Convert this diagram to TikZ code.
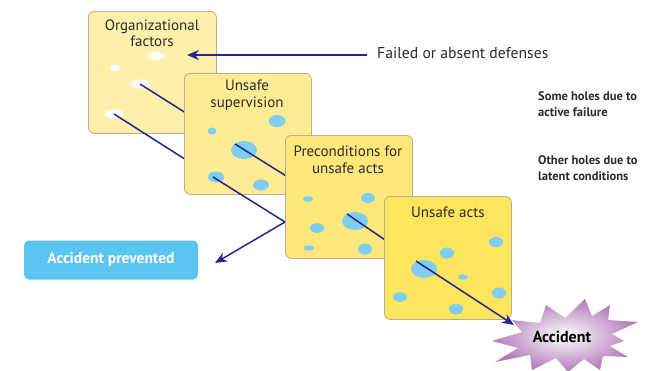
\documentclass[tikz,border=0pt]{standalone}
\usepackage{fontspec}
\setmainfont{PT Sans}
\usetikzlibrary{arrows.meta}
\definecolor{yA}{HTML}{FEF0AA}
\definecolor{yB}{HTML}{FEEC94}
\definecolor{yC}{HTML}{FEE87C}
\definecolor{yD}{HTML}{FDE55E}
\definecolor{boxedge}{HTML}{B8AE90}
\definecolor{holeblue}{HTML}{7FCDF1}
\definecolor{navy}{HTML}{25258E}
\definecolor{txt}{HTML}{2B2B2B}
\definecolor{prevblue}{HTML}{5BC5F2}
\definecolor{burst}{HTML}{B07AB8}
\begin{document}
\begin{tikzpicture}[x=1pt,y=-1pt,
  layerbox/.style={draw=boxedge, line width=0.8pt, rounded corners=6pt, anchor=north west, inner sep=0pt},
  boxtext/.style={text=txt, align=center, font=\fontsize{15}{16.5}\selectfont, inner sep=0pt},
  sidetext/.style={text=txt, align=left, anchor=west, font=\bfseries\fontsize{12.5}{15.5}\selectfont, inner sep=0pt},
  ray/.style={draw=navy, line width=1.5pt},
  tip/.style={-{Stealth[length=12pt,width=10pt]}}]
\useasboundingbox (0,0) rectangle (646,370);

% layer 1
\node[layerbox, fill=yA, minimum width=128pt, minimum height=122pt] (b1) at (88,11) {};
\node[boxtext] (t1) at (152,33) {Organizational\\factors};
\fill[white] (157,56) ellipse [x radius=8, y radius=4];
\fill[white] (115,68) ellipse [x radius=5, y radius=3.2];
\fill[white] (140,84) ellipse [x radius=9.5, y radius=4.5];
\fill[white] (114,114) ellipse [x radius=9.5, y radius=4.5];
\coordinate (p1) at (140,84);
\coordinate (q1) at (114,114);
\coordinate (p2) at (235,144);
\coordinate (q2) at (213,177);
\draw[ray] (p1) -- (p2);
\draw[ray] (q1) -- (q2);

% layer 2
\node[layerbox, fill=yB, minimum width=127pt, minimum height=121pt] (b2) at (184,73) {};
\node[boxtext] (t2) at (247,95) {Unsafe\\supervision};
\fill[holeblue] (277,121) ellipse [x radius=8.5, y radius=6];
\fill[holeblue] (212,131) ellipse [x radius=4.5, y radius=3.5];
\fill[holeblue] (244,150) ellipse [x radius=13, y radius=9];
\fill[holeblue] (216,177) ellipse [x radius=8, y radius=5.5];
\fill[holeblue] (261,185) ellipse [x radius=8, y radius=5.5];
\coordinate (p3) at (347,214);
\coordinate (q3) at (285,222);
\coordinate (qend) at (215,263);
\draw[ray] (p2) -- (p3);
\draw[ray] (q2) -- (q3);

% layer 3
\node[layerbox, fill=yC, minimum width=127pt, minimum height=123pt] (b3) at (285,135) {};
\node[boxtext] (t3) at (348,160) {Preconditions for\\unsafe acts};
\fill[holeblue] (308,199) ellipse [x radius=5, y radius=3];
\fill[holeblue] (368,198) ellipse [x radius=7, y radius=5];
\fill[holeblue] (355,221) ellipse [x radius=13, y radius=9];
\fill[holeblue] (317,228) ellipse [x radius=7, y radius=5];
\fill[holeblue] (309,248) ellipse [x radius=5, y radius=2.7];
\fill[holeblue] (365,249) ellipse [x radius=7, y radius=5.5];
\draw[ray, tip] (q3) -- (qend);
\coordinate (p4) at (416,261);
\coordinate (pend) at (514,325);
\draw[ray] (p3) -- (p4);

% layer 4
\node[layerbox, fill=yD, minimum width=127pt, minimum height=123pt] (b4) at (384,196) {};
\node[boxtext] (t4) at (448,212) {Unsafe acts};
\fill[holeblue] (496,242) ellipse [x radius=7, y radius=5];
\fill[holeblue] (447,253) ellipse [x radius=7, y radius=5.5];
\fill[holeblue] (424,269) ellipse [x radius=13, y radius=9];
\fill[holeblue] (463,277) ellipse [x radius=5, y radius=2.7];
\fill[holeblue] (400,297) ellipse [x radius=7, y radius=5];
\fill[holeblue] (499,293) ellipse [x radius=7, y radius=5.5];
\fill[holeblue] (456,309) ellipse [x radius=7, y radius=5.5];
\draw[ray, tip] (p4) -- (pend);

% accident burst
\shade[inner color=white, outer color=burst, draw=none]
  (492,341) -- (522,332) -- (512,320) -- (540,323) -- (546,305) -- (565,318)
  -- (585,299) -- (592,316) -- (610,305) -- (608,320) -- (638,322) -- (612,334)
  -- (624,341) -- (610,346) -- (628,357) -- (603,356) -- (600,370) -- (584,359)
  -- (568,372) -- (556,358) -- (532,370) -- (530,355) -- (495,362) -- (518,348) -- cycle;
\node[text=black, font=\bfseries\fontsize{16}{18}\selectfont, inner sep=0pt] (acc) at (562,337) {Accident};

% accident prevented
\node[fill=prevblue, rounded corners=5pt, minimum width=174pt, minimum height=39pt, inner sep=0pt,
  text=white, font=\bfseries\fontsize{15.5}{17}\selectfont] (prev) at (111,260) {Accident prevented};

% failed defenses
\node[text=txt, anchor=west, inner sep=0pt, font=\fontsize{15.7}{17}\selectfont] (fd) at (377,53) {Failed or absent defenses};
\coordinate (fdtip) at (187,55);
\coordinate (fdstart) at (367,55);
\draw[ray, tip] (fdstart) -- (fdtip);

% side labels
\node[sidetext] (s1) at (538,104) {Some holes due to\\active failure};
\node[sidetext] (s2) at (538,168) {Other holes due to\\latent conditions};
\end{tikzpicture}
\end{document}
